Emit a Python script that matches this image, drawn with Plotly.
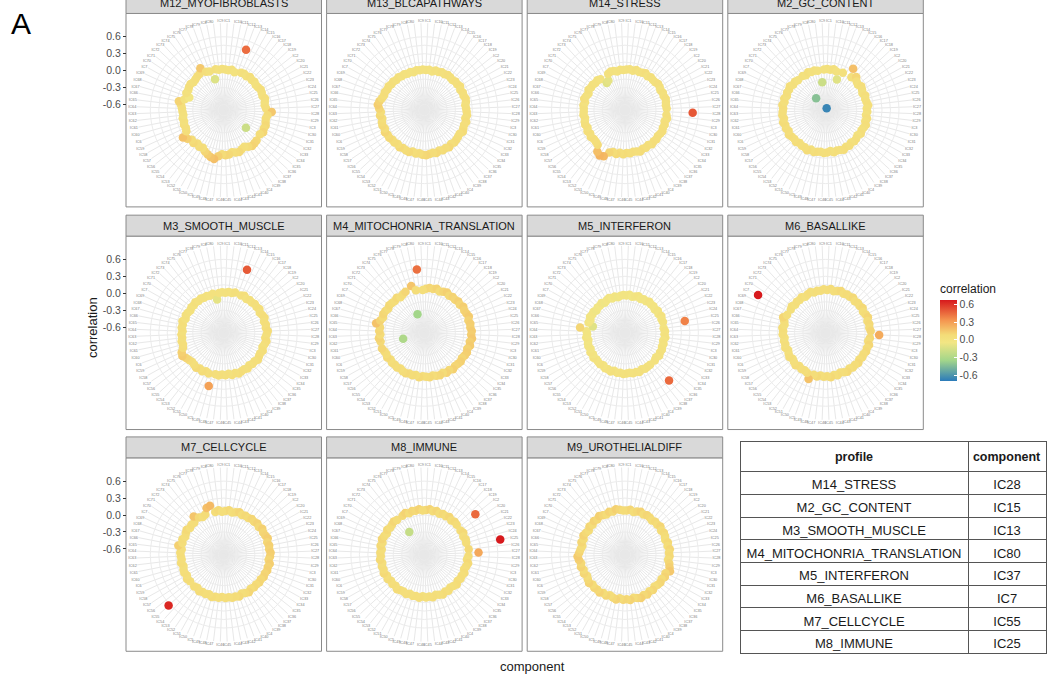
import plotly.graph_objects as go

W, H = 1048, 677

# Components in lexical factor order (IC1, IC10, IC11, ..., IC9)
components = sorted([f"IC{i}" for i in range(1, 81)])

profiles = [
    "M12_MYOFIBROBLASTS", "M13_BLCAPATHWAYS", "M14_STRESS", "M2_GC_CONTENT",
    "M3_SMOOTH_MUSCLE", "M4_MITOCHONRIA_TRANSLATION", "M5_INTERFERON", "M6_BASALLIKE",
    "M7_CELLCYCLE", "M8_IMMUNE", "M9_UROTHELIALDIFF",
]

# Correlation of each component with each profile (same order as `components`)
m12_myofibroblasts = [
    0.02, 0.01, 0.03, 0.00, 0.44, 0.03, 0.04, 0.02, 0.05, 0.03,
    0.04, 0.02, 0.03, 0.05, 0.04, 0.03, 0.06, 0.04, 0.03, 0.05,
    0.15, 0.08, 0.06, 0.07, 0.09, 0.08, 0.10, 0.07, -0.20, 0.09,
    0.10, 0.11, 0.08, 0.04, 0.06, 0.09, 0.08, 0.06, 0.09, 0.10,
    0.08, 0.12, 0.18, 0.16, 0.13, 0.10, 0.06, 0.08, 0.05, 0.09,
    0.07, 0.12, 0.17, 0.06, 0.04, 0.05, 0.03, 0.04, 0.02, 0.03,
    0.04, 0.06, 0.11, 0.02, -0.05, 0.03, 0.02, 0.04, 0.05, 0.03,
    0.04, 0.06, 0.07, 0.15, 0.05, 0.03, -0.13, 0.04, 0.02, 0.03,
]
m13_blcapathways = [
    0.01, 0.02, 0.00, 0.03, 0.02, 0.04, 0.03, 0.05, 0.04, 0.03,
    0.05, 0.04, 0.06, 0.03, 0.05, 0.04, 0.06, 0.05, 0.03, 0.04,
    0.05, 0.06, 0.04, 0.07, 0.05, 0.06, 0.08, 0.05, 0.06, 0.07,
    0.08, 0.06, 0.09, 0.07, 0.08, 0.06, 0.09, 0.07, 0.08, 0.10,
    0.09, 0.07, 0.08, 0.06, 0.09, 0.08, 0.07, 0.09, 0.06, 0.08,
    0.07, 0.09, 0.08, 0.10, 0.07, 0.09, 0.08, 0.06, 0.09, 0.07,
    0.10, 0.13, 0.11, 0.08, 0.06, 0.07, 0.05, 0.06, 0.04, 0.05,
    0.03, 0.04, 0.02, 0.03, 0.01, 0.02, 0.00, 0.02, 0.01, 0.02,
]
m14_stress = [
    0.02, 0.03, 0.01, 0.04, 0.02, 0.03, 0.05, 0.02, 0.04, 0.03,
    0.03, 0.05, 0.04, 0.02, 0.04, 0.03, 0.05, 0.04, 0.03, 0.04,
    0.50, 0.04, 0.06, 0.03, 0.05, 0.04, 0.06, 0.05, 0.04, 0.06,
    0.05, 0.07, 0.04, 0.06, 0.05, 0.08, 0.06, 0.05, 0.07, 0.06,
    0.08, 0.06, 0.09, 0.07, 0.10, 0.20, 0.22, 0.18, 0.08, 0.06,
    0.05, 0.07, 0.04, 0.06, 0.03, 0.05, 0.04, 0.02, 0.04, 0.03,
    0.03, 0.04, 0.02, 0.05, 0.03, 0.01, 0.04, 0.02, 0.03, 0.01,
    0.02, 0.00, -0.12, -0.10, 0.01, 0.03, 0.02, 0.00, 0.02, 0.01,
]
m2_gc_content = [
    0.03, 0.02, 0.04, 0.01, -0.12, 0.03, -0.66, 0.18, 0.04, 0.10,
    0.05, 0.03, 0.06, 0.04, 0.02, 0.05, 0.03, 0.04, 0.06, 0.03,
    0.04, 0.02, 0.05, 0.03, 0.06, 0.04, 0.03, 0.05, 0.02, 0.04,
    0.05, 0.03, 0.06, 0.04, 0.07, 0.05, 0.04, 0.06, 0.03, 0.05,
    0.06, 0.04, 0.05, 0.07, 0.04, 0.08, 0.05, 0.06, 0.04, 0.07,
    0.05, 0.06, 0.08, 0.05, 0.07, 0.06, 0.08, 0.05, 0.07, 0.06,
    0.05, 0.07, 0.04, 0.06, 0.03, 0.05, 0.04, 0.06, 0.03, 0.04,
    0.02, -0.43, 0.03, 0.01, 0.04, 0.02, 0.03, 0.01, -0.20, 0.02,
]
m3_smooth_muscle = [
    0.01, 0.03, 0.02, 0.04, 0.49, 0.03, 0.05, 0.02, 0.04, 0.03,
    0.05, 0.04, 0.06, 0.03, 0.05, 0.07, 0.04, 0.06, 0.05, 0.08,
    0.06, 0.04, 0.07, 0.05, 0.03, 0.06, 0.04, 0.05, 0.07, 0.04,
    0.05, 0.03, 0.06, 0.04, 0.05, 0.07, 0.04, 0.06, 0.03, 0.05,
    0.04, 0.06, 0.05, 0.28, 0.07, 0.05, 0.08, 0.06, 0.09, 0.07,
    0.06, 0.08, 0.10, 0.14, 0.12, 0.07, 0.05, 0.06, 0.04, 0.05,
    0.03, 0.05, 0.04, 0.06, 0.02, 0.04, 0.03, 0.01, 0.03, 0.02,
    0.04, 0.02, 0.03, 0.01, 0.02, 0.00, 0.02, -0.10, 0.01, 0.02,
]
m4_mitochonria_translation = [
    0.08, 0.10, 0.09, 0.11, 0.08, 0.10, 0.12, 0.09, 0.11, 0.10,
    0.12, 0.10, 0.13, 0.11, 0.12, 0.14, 0.11, 0.13, 0.12, 0.14,
    0.13, 0.15, 0.12, 0.14, 0.11, 0.13, 0.12, 0.10, 0.12, 0.11,
    0.10, 0.12, 0.09, 0.11, 0.08, 0.10, 0.09, 0.07, 0.09, 0.08,
    0.07, 0.09, 0.06, 0.08, 0.07, 0.09, 0.08, 0.06, 0.08, 0.07,
    0.08, 0.06, 0.09, 0.07, 0.08, 0.10, -0.31, 0.09, 0.11, 0.08,
    0.10, 0.09, 0.17, 0.11, 0.08, 0.10, 0.09, 0.07, 0.09, 0.08,
    0.07, 0.09, 0.06, 0.08, 0.10, -0.35, 0.16, 0.07, 0.43, 0.06,
]
m5_interferon = [
    -0.04, -0.02, -0.05, -0.03, -0.01, -0.04, -0.02, -0.03, 0.00, -0.02,
    -0.01, -0.03, 0.00, -0.02, 0.01, -0.01, 0.00, 0.38, -0.01, 0.01,
    0.00, 0.02, -0.01, 0.01, 0.00, 0.02, 0.01, 0.03, 0.00, 0.02,
    0.45, 0.02, 0.02, 0.03, 0.01, 0.04, 0.02, 0.03, 0.01, 0.02,
    0.03, 0.01, 0.02, 0.00, 0.03, 0.01, 0.02, -0.01, 0.01, 0.00,
    -0.01, 0.01, -0.02, 0.00, -0.03, -0.01, -0.02, -0.04, -0.01, -0.03,
    -0.02, 0.10, -0.12, -0.03, -0.05, -0.02, -0.04, -0.03, -0.06, -0.04,
    -0.05, -0.03, -0.06, -0.04, -0.02, -0.05, -0.03, -0.06, -0.04, -0.03,
]
m6_basallike = [
    0.06, 0.08, 0.05, 0.07, 0.09, 0.06, 0.08, 0.07, 0.09, 0.06,
    0.08, 0.07, 0.09, 0.06, 0.08, 0.10, 0.07, 0.09, 0.08, 0.10,
    0.25, 0.09, 0.07, 0.10, 0.08, 0.09, 0.07, 0.08, 0.06, 0.09,
    0.07, 0.08, 0.06, 0.09, 0.07, 0.05, 0.08, 0.06, 0.09, 0.07,
    0.08, 0.06, 0.09, 0.07, 0.17, 0.08, 0.06, 0.07, 0.05, 0.08,
    0.06, 0.04, 0.07, 0.05, 0.03, 0.06, 0.04, 0.05, 0.03, 0.06,
    0.05, 0.07, 0.04, 0.06, 0.10, 0.05, 0.67, 0.04, 0.06, 0.03,
    0.05, 0.04, 0.06, 0.03, 0.05, 0.07, 0.04, 0.06, 0.05, 0.07,
]
m7_cellcycle = [
    0.07, 0.09, 0.06, 0.08, 0.10, 0.07, 0.09, 0.08, 0.10, 0.09,
    0.11, 0.09, 0.12, 0.10, 0.11, 0.13, 0.10, 0.12, 0.11, 0.13,
    0.12, 0.10, 0.13, 0.11, 0.12, 0.10, 0.11, 0.09, 0.10, 0.08,
    0.09, 0.07, 0.10, 0.08, 0.06, 0.09, 0.07, 0.08, 0.06, 0.07,
    0.05, 0.07, 0.06, 0.08, 0.05, 0.07, 0.06, 0.08, 0.05, 0.07,
    0.63, 0.06, 0.08, 0.05, 0.07, 0.06, 0.04, 0.07, 0.05, 0.06,
    0.07, 0.05, 0.12, 0.06, 0.08, 0.05, 0.07, 0.09, 0.06, 0.08,
    0.07, 0.16, 0.09, 0.06, 0.08, 0.18, 0.20, 0.07, 0.09, 0.06,
]
m8_immune = [
    0.09, 0.11, 0.08, 0.10, 0.07, 0.09, 0.08, 0.10, 0.07, 0.09,
    0.08, 0.45, 0.07, 0.09, 0.06, 0.08, 0.07, 0.67, 0.09, 0.26,
    0.08, 0.06, 0.09, 0.07, 0.05, 0.08, 0.06, 0.07, 0.05, 0.08,
    0.06, 0.04, 0.07, 0.05, 0.08, 0.06, 0.04, 0.07, 0.05, 0.06,
    0.04, 0.07, 0.05, 0.06, 0.04, 0.07, 0.05, 0.06, 0.08, 0.05,
    0.07, 0.05, 0.08, 0.06, 0.09, 0.07, 0.08, 0.06, 0.09, 0.07,
    0.08, 0.06, 0.09, 0.07, 0.10, 0.08, 0.06, 0.09, 0.07, 0.08,
    0.10, 0.08, -0.22, 0.09, 0.11, 0.08, 0.10, 0.09, 0.11, 0.08,
]
m9_urothelialdiff = [
    0.08, 0.10, 0.07, 0.09, 0.11, 0.08, 0.10, 0.09, 0.07, 0.09,
    0.08, 0.10, 0.07, 0.09, 0.08, 0.06, 0.09, 0.07, 0.10, 0.08,
    0.09, 0.07, 0.10, 0.12, 0.15, 0.09, 0.11, 0.08, 0.10, 0.09,
    0.07, 0.10, 0.08, 0.11, 0.09, 0.12, 0.10, 0.08, 0.11, 0.09,
    0.10, 0.08, 0.11, 0.09, 0.07, 0.10, 0.08, 0.11, 0.09, 0.10,
    0.08, 0.11, 0.09, 0.07, 0.10, 0.08, 0.11, 0.09, 0.12, 0.14,
    0.11, 0.09, 0.07, 0.10, 0.08, 0.11, 0.09, 0.07, 0.10, 0.08,
    0.11, 0.09, 0.12, 0.10, 0.08, 0.11, 0.09, 0.12, 0.10, 0.08,
]

profile_values = [
    m12_myofibroblasts, m13_blcapathways, m14_stress, m2_gc_content,
    m3_smooth_muscle, m4_mitochonria_translation, m5_interferon, m6_basallike,
    m7_cellcycle, m8_immune, m9_urothelialdiff,
]

# Best-matching component per profile
table_profiles = ["M14_STRESS", "M2_GC_CONTENT", "M3_SMOOTH_MUSCLE",
                  "M4_MITOCHONRIA_TRANSLATION", "M5_INTERFERON", "M6_BASALLIKE",
                  "M7_CELLCYCLE", "M8_IMMUNE"]
table_components = ["IC28", "IC15", "IC13", "IC80", "IC37", "IC7", "IC55", "IC25"]

corr_ticks = [-0.6, -0.3, 0.0, 0.3, 0.6]
corr_ticktext = ["-0.6", "-0.3", "0.0", "0.3", "0.6"]

# ---- styling / geometry ----
FONT = "Liberation Sans, Arial, sans-serif"
CMIN, CMAX = -0.70, 0.67


def cpos(v):
    return (v - CMIN) / (CMAX - CMIN)


colorscale = [
    [0.0, "#2b7bba"],
    [cpos(-0.35), "#a3d68a"],
    [cpos(-0.05), "#f2e684"],
    [cpos(0.08), "#f4dc78"],
    [cpos(0.33), "#f4944f"],
    [1.0, "#d7191c"],
]

PANEL_W, PANEL_H, STRIP_H = 195.5, 194.0, 21.0
COL_LEFT = [126.0, 326.6, 527.2, 727.8]
STRIP_CENTER = [1.0, 224.3, 446.7]
R_DATA = 0.40 * PANEL_H     # radius of the data range
R_OUTER = 0.45 * PANEL_H    # radius where the component labels sit
R_TOP = CMIN + (CMAX - CMIN) * R_OUTER / R_DATA


def px(x):
    return x / W


def py(y):
    return 1 - y / H


fig = go.Figure()
shapes, annotations = [], []
layout_extra = {}

for k, (name, vals) in enumerate(zip(profiles, profile_values)):
    row, col = divmod(k, 4)
    left = COL_LEFT[col]
    s_top = STRIP_CENTER[row] - STRIP_H / 2
    p_top = s_top + STRIP_H
    cx = left + PANEL_W / 2
    cy = p_top + PANEL_H / 2

    # panel frame and strip
    shapes.append(dict(type="rect", xref="paper", yref="paper",
                       x0=px(left), x1=px(left + PANEL_W), y0=py(p_top + PANEL_H), y1=py(p_top),
                       line=dict(color="#8a8a8a", width=1), fillcolor="white", layer="below"))
    shapes.append(dict(type="rect", xref="paper", yref="paper",
                       x0=px(left), x1=px(left + PANEL_W), y0=py(p_top), y1=py(s_top),
                       line=dict(color="#8a8a8a", width=1), fillcolor="#d9d9d9", layer="below"))
    annotations.append(dict(text=name, x=px(cx), y=py(STRIP_CENTER[row]), xref="paper", yref="paper",
                            showarrow=False, xanchor="center", yanchor="middle",
                            font=dict(family=FONT, size=11, color="#1a1a1a")))

    pkey = "polar" if k == 0 else f"polar{k + 1}"
    layout_extra[pkey] = dict(
        domain=dict(x=[px(cx - R_OUTER), px(cx + R_OUTER)], y=[py(cy + R_OUTER), py(cy - R_OUTER)]),
        bgcolor="rgba(0,0,0,0)",
        angularaxis=dict(type="category", categoryorder="array", categoryarray=components,
                         rotation=90 - 180 / len(components), direction="clockwise",
                         showline=False, ticks="", showgrid=True,
                         gridcolor="#e8e8e8", gridwidth=0.8,
                         tickfont=dict(family=FONT, size=3.8, color="#808080")),
        radialaxis=dict(range=[CMIN, R_TOP], tickvals=[-0.6, -0.45, -0.3, -0.15, 0, 0.15, 0.3, 0.45, 0.6],
                        showticklabels=False, ticks="", showline=False, showgrid=True,
                        gridcolor="#ececec", gridwidth=0.8),
    )

    fig.add_trace(go.Scatterpolar(
        r=vals, theta=components, subplot=pkey, mode="markers",
        marker=dict(size=8.5, color=vals, colorscale=colorscale, cmin=CMIN, cmax=CMAX,
                    line=dict(width=0), showscale=(k == 0),
                    colorbar=dict(
                        title=dict(text="correlation", side="top",
                                   font=dict(family=FONT, size=12, color="#1a1a1a")),
                        x=px(940), xanchor="left", y=py(280), yanchor="top",
                        len=100, lenmode="pixels", thickness=17, thicknessmode="pixels",
                        tickvals=corr_ticks, ticktext=corr_ticktext, ticks="inside",
                        tickcolor="white", ticklen=3, outlinewidth=0, xpad=0, ypad=0,
                        tickfont=dict(family=FONT, size=10.5, color="#4d4d4d"))),
        showlegend=False, hoverinfo="skip"))

# Correlation axis shown at the left of each facet row (maps onto the polar radius)
layout_extra["xaxis"] = dict(domain=[px(COL_LEFT[0]), px(COL_LEFT[0] + PANEL_W)], range=[0, 1],
                             visible=False, anchor="y")
for row in range(3):
    cy = STRIP_CENTER[row] + STRIP_H / 2 + PANEL_H / 2
    ykey = "yaxis" if row == 0 else f"yaxis{row + 1}"
    layout_extra[ykey] = dict(
        domain=[py(cy), py(cy - R_DATA)], range=[CMIN, CMAX], anchor="free", position=px(COL_LEFT[0]),
        side="left", tickvals=corr_ticks, ticktext=corr_ticktext, ticks="outside", ticklen=3,
        tickcolor="#333333", showgrid=False, zeroline=False, showline=False,
        tickfont=dict(family=FONT, size=10.5, color="#4d4d4d"))
    fig.add_trace(go.Scatter(x=[], y=[], xaxis="x", yaxis="y" if row == 0 else f"y{row + 1}",
                             showlegend=False, hoverinfo="skip"))

# Axis titles and panel tag
annotations.append(dict(text="correlation", x=px(92), y=py(327), xref="paper", yref="paper",
                        xanchor="center", yanchor="middle",
                        textangle=-90, showarrow=False, font=dict(family=FONT, size=13, color="#1a1a1a")))
annotations.append(dict(text="component", x=px(532), y=py(666), xref="paper", yref="paper",
                        xanchor="center", yanchor="middle",
                        showarrow=False, font=dict(family=FONT, size=13, color="#1a1a1a")))
annotations.append(dict(text="A", x=px(21), y=py(22), xref="paper", yref="paper",
                        xanchor="center", yanchor="middle",
                        showarrow=False, font=dict(family=FONT, size=30, color="#000000")))

# Summary table
fig.add_trace(go.Table(
    domain=dict(x=[px(740), px(1046)], y=[py(660), py(441)]),
    columnwidth=[228, 78],
    header=dict(values=["<b>profile</b>", "<b>component</b>"], height=14,
                align="center", fill_color="white", line=dict(color="#555555", width=1),
                font=dict(family=FONT, size=12.5, color="#1a1a1a")),
    cells=dict(values=[table_profiles, table_components], height=22.7,
               align="center", fill_color="white", line=dict(color="#555555", width=1),
               font=dict(family=FONT, size=13, color="#1a1a1a")),
))

fig.update_layout(
    width=W, height=H, margin=dict(l=0, r=0, t=0, b=0),
    paper_bgcolor="white", plot_bgcolor="white",
    shapes=shapes, annotations=annotations, showlegend=False,
    **layout_extra,
)

fig.write_html("out.html")
